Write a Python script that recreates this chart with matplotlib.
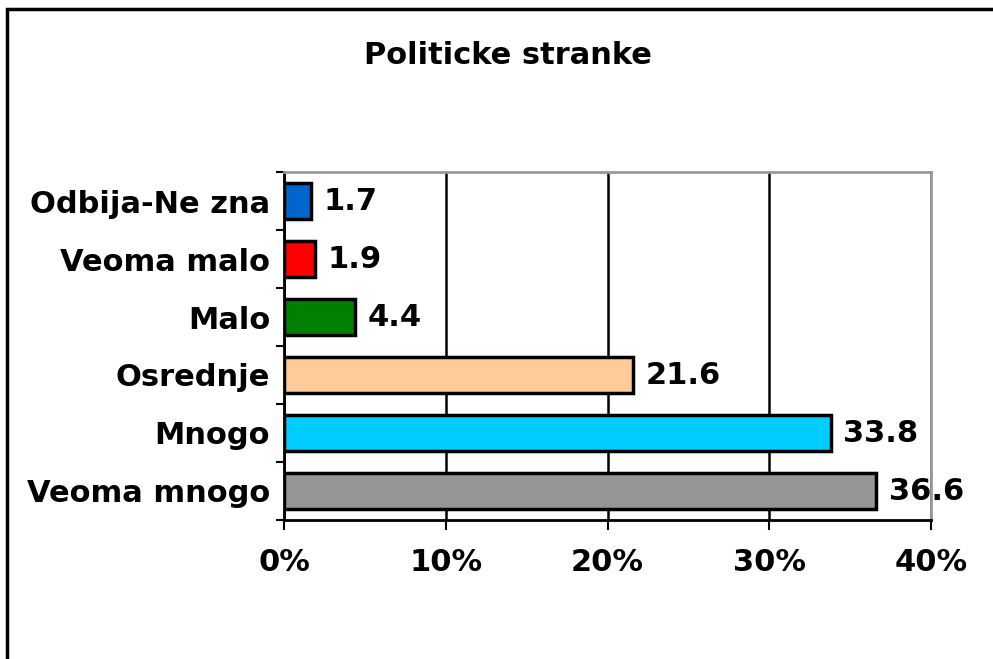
import matplotlib
matplotlib.use("Agg")
import matplotlib.pyplot as plt
from matplotlib.patches import Rectangle
from matplotlib.ticker import FuncFormatter

# data, bottom to top
categories = ["Veoma mnogo", "Mnogo", "Osrednje", "Malo", "Veoma malo", "Odbija-Ne zna"]
values = [36.6, 33.8, 21.6, 4.4, 1.9, 1.7]
colors = ["#969696", "#00CCFF", "#FFCC99", "#008000", "#FF0000", "#0066CC"]
xticks = [0, 10, 20, 30, 40]

plt.rcParams['font.family'] = ['DejaVu Sans']
plt.rcParams['font.weight'] = 'bold'
FS = 22

fig = plt.figure(figsize=(9.93, 6.59), dpi=100)
# outer chart border (only top/left visible in the original crop)
fig.patches.append(Rectangle((7 / 993, -0.05), 1.2, 1 - 9 / 659 + 0.05,
                             transform=fig.transFigure, fill=False,
                             edgecolor='black', linewidth=2.5))

ax = fig.add_axes([284 / 993, 1 - 520 / 659, 647 / 993, 348 / 659])
ypos = list(range(len(categories)))
ax.barh(ypos, values, height=0.62, color=colors, edgecolor='black', linewidth=2.5, zorder=3)

for y, v in zip(ypos, values):
    ax.annotate(f"{v:.1f}", (v, y), xytext=(9, 0), textcoords='offset points',
                va='center', ha='left', fontsize=FS, fontweight='bold')

ax.set_xlim(0, 40)
ax.set_ylim(-0.5, len(categories) - 0.5)
ax.set_xticks(xticks)
ax.xaxis.set_major_formatter(FuncFormatter(lambda x, p: f"{x:.0f}%"))
ax.set_yticks(ypos)
ax.set_yticklabels(categories)
ax.set_yticks([i - 0.5 for i in range(len(categories) + 1)], minor=True)
ax.tick_params(axis='y', which='major', length=0, pad=10, labelsize=FS)
ax.tick_params(axis='y', which='minor', length=6, width=1.5, direction='out')
ax.tick_params(axis='x', length=7, width=1.5, direction='out', labelsize=FS, pad=13)
for lbl in ax.get_xticklabels() + ax.get_yticklabels():
    lbl.set_fontweight('bold')

ax.grid(axis='x', color='black', linewidth=1.8, zorder=1)
ax.set_axisbelow(True)
ax.spines['left'].set_linewidth(2)
ax.spines['bottom'].set_linewidth(2)
ax.spines['top'].set_color('#999999')
ax.spines['right'].set_color('#999999')
ax.spines['top'].set_linewidth(2)
ax.spines['right'].set_linewidth(2)

fig.text(508 / 993, 1 - 55 / 659, "Politicke stranke", ha='center', va='center',
         fontsize=FS, fontweight='bold')

fig.savefig("out.png", dpi=100)
